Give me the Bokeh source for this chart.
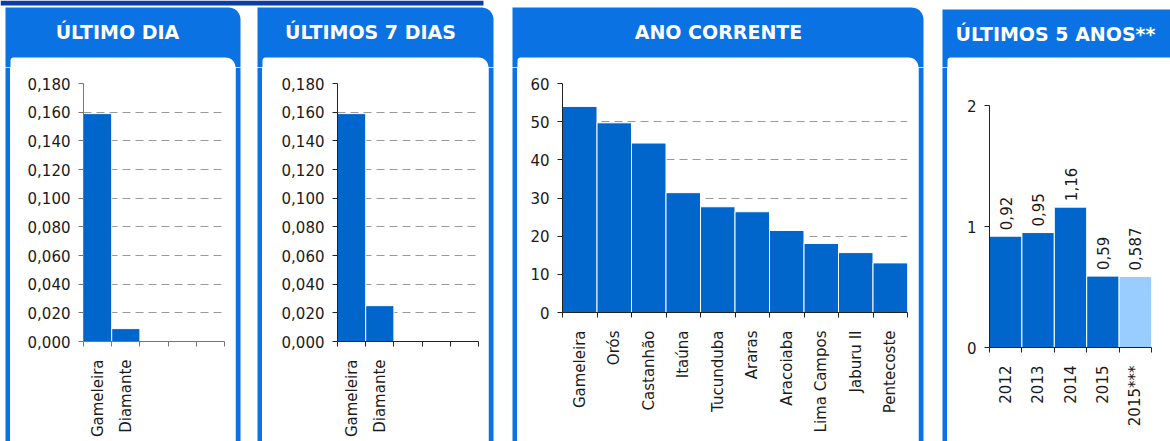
import numpy as np
from bokeh.plotting import figure
from bokeh.layouts import row, column
from bokeh.models import Range1d, FixedTicker, CustomJSTickFormatter, ColumnDataSource
from bokeh.core.properties import value
from bokeh.embed import file_html
from bokeh.resources import INLINE

# ---------------- data ----------------
titles = ["ÚLTIMO DIA", "ÚLTIMOS 7 DIAS", "ANO CORRENTE", "ÚLTIMOS 5 ANOS**"]

day_stations = ["Gameleira", "Diamante"]
day_values = [0.159, 0.009]

week_stations = ["Gameleira", "Diamante"]
week_values = [0.159, 0.025]

year_stations = ["Gameleira", "Orós", "Castanhão", "Itaúna", "Tucunduba",
                 "Araras", "Aracoiaba", "Lima Campos", "Jaburu II", "Pentecoste"]
year_values = [54.0, 49.7, 44.4, 31.4, 27.7, 26.4, 21.5, 18.1, 15.7, 13.0]

five_years = ["2012", "2013", "2014", "2015", "2015***"]
five_values = [0.92, 0.95, 1.16, 0.59, 0.587]

small_ticks = [0.0, 0.02, 0.04, 0.06, 0.08, 0.10, 0.12, 0.14, 0.16, 0.18]
year_ticks = [0, 10, 20, 30, 40, 50, 60]
five_ticks = [0, 1, 2]

# ---------------- style ----------------
HEAD = "#0a72e3"
BAND = "#0b3e9f"
BAR = "#0066cc"
LIGHT = "#99ccff"
FONT = "DejaVu Sans"
W, H = 1170, 441
HEAD_BOTTOM = 57
TOP_H = 67
CH = H - TOP_H


def bare(width, height, xr, yr):
    p = figure(width=width, height=height, x_range=xr, y_range=yr,
               output_backend="svg", toolbar_location=None,
               x_axis_location=None, y_axis_location=None,
               min_border_left=0, min_border_right=0, min_border_top=0, min_border_bottom=0,
               background_fill_color="white", border_fill_color="white",
               outline_line_color=None)
    p.grid.visible = False
    return p


def strip(width, spans):
    p = bare(width, CH, Range1d(0, width), Range1d(0, 1))
    p.quad(left=[a for a, b in spans], right=[b for a, b in spans],
           bottom=0, top=1, fill_color=HEAD, line_color=None)
    return p


def chart(cats, vals, n_slots, yticks, decimals, width, left, right, top, bottom,
          axis_color="#222222", grid=True, labels=False):
    p = figure(width=width, height=CH, x_range=Range1d(0, n_slots),
               y_range=Range1d(yticks[0], yticks[-1]),
               output_backend="svg", toolbar_location=None,
               min_border_left=left, min_border_right=right,
               min_border_top=top, min_border_bottom=bottom,
               background_fill_color="white", border_fill_color="white",
               outline_line_color=None)
    centers = [i + 0.5 for i in range(len(cats))]
    colors = [LIGHT if c.endswith("***") else BAR for c in cats]
    texts = [f"{v:g}".replace(".", ",") for v in vals]
    src = ColumnDataSource(dict(x=centers, top=vals, color=colors, label=texts))
    p.vbar(x="x", top="top", bottom=0, width=1.0, fill_color="color",
           line_color="white", line_width=1, source=src)
    if labels:
        p.text(x="x", y="top", text="label", angle=np.pi / 2, text_align="left",
               text_baseline="middle", y_offset=-6, text_font=value(FONT),
               text_font_size="15px", text_color="#1a1a1a", source=src)

    xa = p.xaxis[0]
    xa.ticker = FixedTicker(ticks=centers, minor_ticks=list(range(n_slots + 1)))
    xa.formatter = CustomJSTickFormatter(
        args=dict(labels=cats),
        code="const i = Math.round(tick - 0.5); return (i >= 0 && i < labels.length) ? labels[i] : '';")
    xa.major_tick_out = 0
    xa.major_tick_in = 0
    xa.minor_tick_out = 5
    xa.minor_tick_in = 0
    xa.minor_tick_line_color = axis_color
    xa.major_label_orientation = np.pi / 2
    xa.major_label_standoff = 13

    ya = p.yaxis[0]
    ya.ticker = FixedTicker(ticks=yticks, minor_ticks=[])
    ya.formatter = CustomJSTickFormatter(
        args=dict(d=decimals), code="return tick.toFixed(d).replace('.', ',');")
    ya.major_tick_out = 5
    ya.major_tick_in = 0
    ya.major_tick_line_color = axis_color
    ya.major_label_standoff = 8

    for ax in (xa, ya):
        ax.axis_line_color = axis_color
        ax.major_label_text_font = FONT
        ax.major_label_text_font_size = "15px"
        ax.major_label_text_color = "#1a1a1a"

    p.xgrid.visible = False
    if grid:
        p.ygrid.ticker = FixedTicker(ticks=yticks[1:])
        p.ygrid.grid_line_color = "#9a9a9a"
        p.ygrid.grid_line_dash = "8 5"
        p.ygrid.grid_line_width = 1
    else:
        p.ygrid.visible = False
    return p


def rounded_top(x0, x1, t, b, r_left, r_right, n=10):
    """Outline of a box with rounded top corners (y grows downward)."""
    px, py = [x0], [b]
    if r_left > 0:
        ang = np.linspace(np.pi, np.pi / 2, n)
        px += list(x0 + r_left + r_left * np.cos(ang))
        py += list(t + r_left - r_left * np.sin(ang))
    else:
        px.append(x0)
        py.append(t)
    if r_right > 0:
        ang = np.linspace(np.pi / 2, 0, n)
        px += list(x1 - r_right + r_right * np.cos(ang))
        py += list(t + r_right - r_right * np.sin(ang))
    else:
        px.append(x1)
        py.append(t)
    px.append(x1)
    py.append(b)
    return px, py


# ---------------- header strip ----------------
top = bare(W, TOP_H, Range1d(0, W), Range1d(TOP_H, 0))
top.quad(left=[0], right=[483], top=[0], bottom=[5], fill_color=BAND, line_color=None)

# (outer left, outer right, header top, outer radius, inner left, inner right, inner radius)
panels = [(5, 240, 7, 12, 10, 235, 10),
          (257, 493, 7, 12, 262, 488, 10),
          (512, 923, 7, 12, 517, 918, 10),
          (942, W, 9, 0, 947, W, 0)]
bx, by, wx, wy = [], [], [], []
for x0, x1, t, r, i0, i1, ri in panels:
    px, py = rounded_top(x0, x1, t, TOP_H, 0, r)
    bx.append(px)
    by.append(py)
    px, py = rounded_top(i0, i1, HEAD_BOTTOM, TOP_H + 1, 3, ri)
    wx.append(px)
    wy.append(py)
top.patches(xs=bx, ys=by, fill_color=HEAD, line_color=None)
top.patches(xs=wx, ys=wy, fill_color="white", line_color=None)

head_x = [117, 370, 718, 1055]
head_y = [31, 31, 31, 33]
top.text(x=head_x, y=head_y, text=titles, text_align="center", text_baseline="middle",
         text_font=value(FONT), text_font_style="bold", text_font_size="19px",
         text_color="white")

# ---------------- charts ----------------
c1 = chart(day_stations, day_values, 5, small_ticks, 3, 225, 73, 11, 16, 100,
           axis_color="#777777")
c2 = chart(week_stations, week_values, 5, small_ticks, 3, 226, 75, 10, 16, 100)
c3 = chart(year_stations, year_values, len(year_stations), year_ticks, 0, 401, 45, 11, 16, 129)
c4 = chart(five_years, five_values, len(five_years), five_ticks, 0, 223, 42, 19, 38, 94,
           grid=False, labels=True)

s0 = strip(10, [(5, 10)])
s1 = strip(27, [(0, 5), (22, 27)])
s2 = strip(29, [(0, 5), (24, 29)])
s3 = strip(29, [(0, 5), (24, 29)])

parts = [s0, c1, s1, c2, s2, c3, s3, c4]
body = row([column([p_], spacing=0) for p_ in parts], spacing=0)
root = column([top, body], spacing=0)

open("out.html", "w").write(file_html(root, INLINE))
